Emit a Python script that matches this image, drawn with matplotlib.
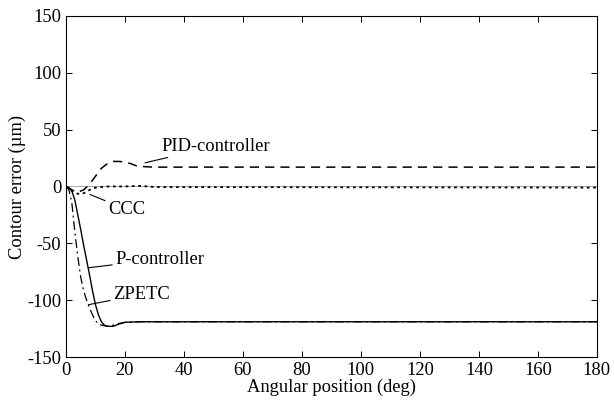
import matplotlib
matplotlib.use("Agg")
import matplotlib.pyplot as plt

plt.rcParams['font.family'] = ['Liberation Serif', 'DejaVu Serif']
plt.rcParams['axes.unicode_minus'] = False

# P-controller (solid)
p_x = [0, 1, 2, 3, 4, 5, 6, 7, 8, 9, 10, 11, 12, 13, 14, 16, 18, 20, 25, 180]
p_y = [0, -1, -4, -12, -25, -38, -52, -65, -78, -92, -104, -113, -119, -122, -123, -123, -121, -119.5, -119, -119]

# ZPETC (dash-dot)
z_x = [0, 1, 2, 3, 4, 5, 6, 7, 8, 9, 10, 11, 12, 14, 16, 18, 20, 25, 180]
z_y = [0, -3, -15, -40, -62, -80, -92, -100, -107, -113, -118, -121, -122, -123, -122, -120.5, -119.5, -119, -119]

# PID-controller (dashed)
pid_x = [0, 2, 4, 6, 8, 10, 12, 14, 16, 18, 20, 22, 24, 26, 30, 180]
pid_y = [0, -3, -5, -3, 2, 9, 16, 20, 22, 22, 21.5, 20, 18, 17.5, 17, 17]

# CCC (dotted)
ccc_x = [0, 2, 4, 6, 8, 10, 14, 20, 25, 30, 180]
ccc_y = [0, -4, -6.5, -6, -3, -1, 0, 0, 0.5, -0.5, -1]

fig = plt.figure(figsize=(6.14, 4.08), dpi=100)
ax = fig.add_axes([0.1075, 0.125, 0.8645, 0.836])

ax.axhline(0, color='0.65', lw=0.7)
ax.plot(p_x, p_y, color='black', lw=1.0, ls='-')
ax.plot(z_x, z_y, color='black', lw=0.9, ls=(0, (7, 3, 1.5, 3)))
ax.plot(pid_x, pid_y, color='black', lw=1.1, ls=(0, (6, 4)))
ax.plot(ccc_x, ccc_y, color='black', lw=1.3, ls=(0, (1.5, 2)))

fs = 13.3
arrow = dict(arrowstyle='-', color='black', lw=0.8, shrinkA=0, shrinkB=0)
ax.annotate('PID-controller', xy=(26.8, 20.8), xytext=(32.4, 35.4),
            fontsize=fs, va='center', ha='left', arrowprops=arrow)
ax.annotate('CCC', xy=(8.1, -7), xytext=(14.2, -20.2),
            fontsize=fs, va='center', ha='left', arrowprops=arrow)
ax.annotate('P-controller', xy=(7.6, -71.5), xytext=(16.6, -64),
            fontsize=fs, va='center', ha='left', arrowprops=arrow)
ax.annotate('ZPETC', xy=(7.6, -104), xytext=(15.9, -95),
            fontsize=fs, va='center', ha='left', arrowprops=arrow)

ax.set_xlim(0, 180)
ax.set_ylim(-150, 150)
ax.set_xticks(range(0, 181, 20))
ax.set_yticks(range(-150, 151, 50))
ax.tick_params(direction='in', top=True, right=True, labelsize=fs, length=4, width=0.7)
for s in ax.spines.values():
    s.set_linewidth(0.8)

ax.set_xlabel('Angular position (deg)', fontsize=fs, labelpad=0)
ax.set_ylabel('Contour error (\u00b5m)', fontsize=fs, labelpad=1)

fig.savefig('out.png', dpi=100)
